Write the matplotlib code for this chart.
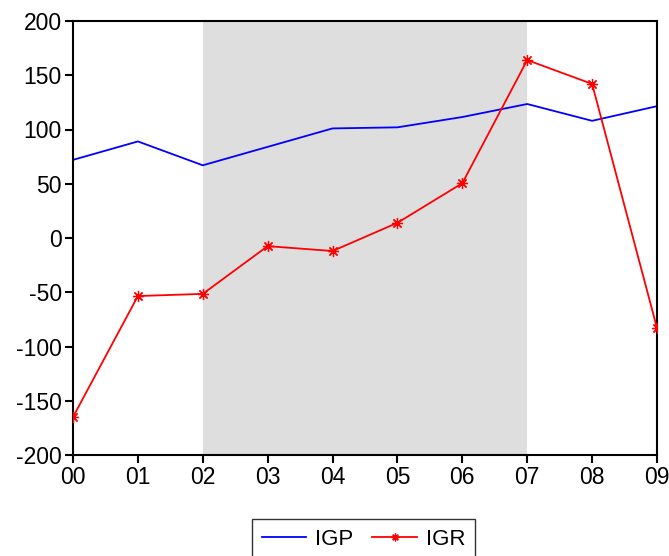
import matplotlib
matplotlib.use('Agg')
import matplotlib.pyplot as plt

plt.rcParams['font.family'] = ['Liberation Sans', 'DejaVu Sans']
plt.rcParams['axes.unicode_minus'] = False

# Annual series, 2000-2009
years = ['00', '01', '02', '03', '04', '05', '06', '07', '08', '09']
igp = [72, 89, 67, 84, 101, 102, 111.5, 123.5, 108, 121.5]
igr = [-165, -53.5, -51.5, -7.5, -12, 14, 50.5, 164, 142, -83]
shade_start, shade_end = 2, 7

fig = plt.figure(figsize=(6.69, 5.56), dpi=100, facecolor='white')
ax = fig.add_axes([73 / 669, 1 - 455 / 556, (657 - 73) / 669, (455 - 21) / 556])

x = list(range(len(years)))
star = (8, 2, 0)  # asterisk-style marker
ax.axvspan(shade_start, shade_end, color='#dedede', lw=0, zorder=0)
ax.plot(x, igp, color='#0000ff', lw=1.3, label='IGP', zorder=2)
ax.plot(x, igr, color='#ff0000', lw=1.3, marker=star, markersize=8,
        markeredgewidth=0.9, label='IGR', zorder=3)

ax.set_xlim(0, len(years) - 1)
ax.set_ylim(-200, 200)
ax.set_xticks(x)
ax.set_xticklabels(years)
ax.set_yticks(range(-200, 201, 50))
ax.tick_params(axis='both', direction='out', length=6, width=1.5,
               labelsize=16.5, colors='black', pad=2)
for s in ax.spines.values():
    s.set_linewidth(1.5)
    s.set_color('black')

# legend sits at the bottom edge, its lower border runs off the canvas
leg = fig.legend(loc='upper left', bbox_to_anchor=(252 / 669, 1 - 519 / 556),
                 ncol=2, fontsize=16, frameon=True, fancybox=False,
                 edgecolor='black', handlelength=2.0, handletextpad=0.4,
                 columnspacing=0.85, borderpad=0.45, borderaxespad=0,
                 markerscale=0.7)
leg.get_frame().set_linewidth(1.0)

fig.savefig('out.png', dpi=100, facecolor='white')
